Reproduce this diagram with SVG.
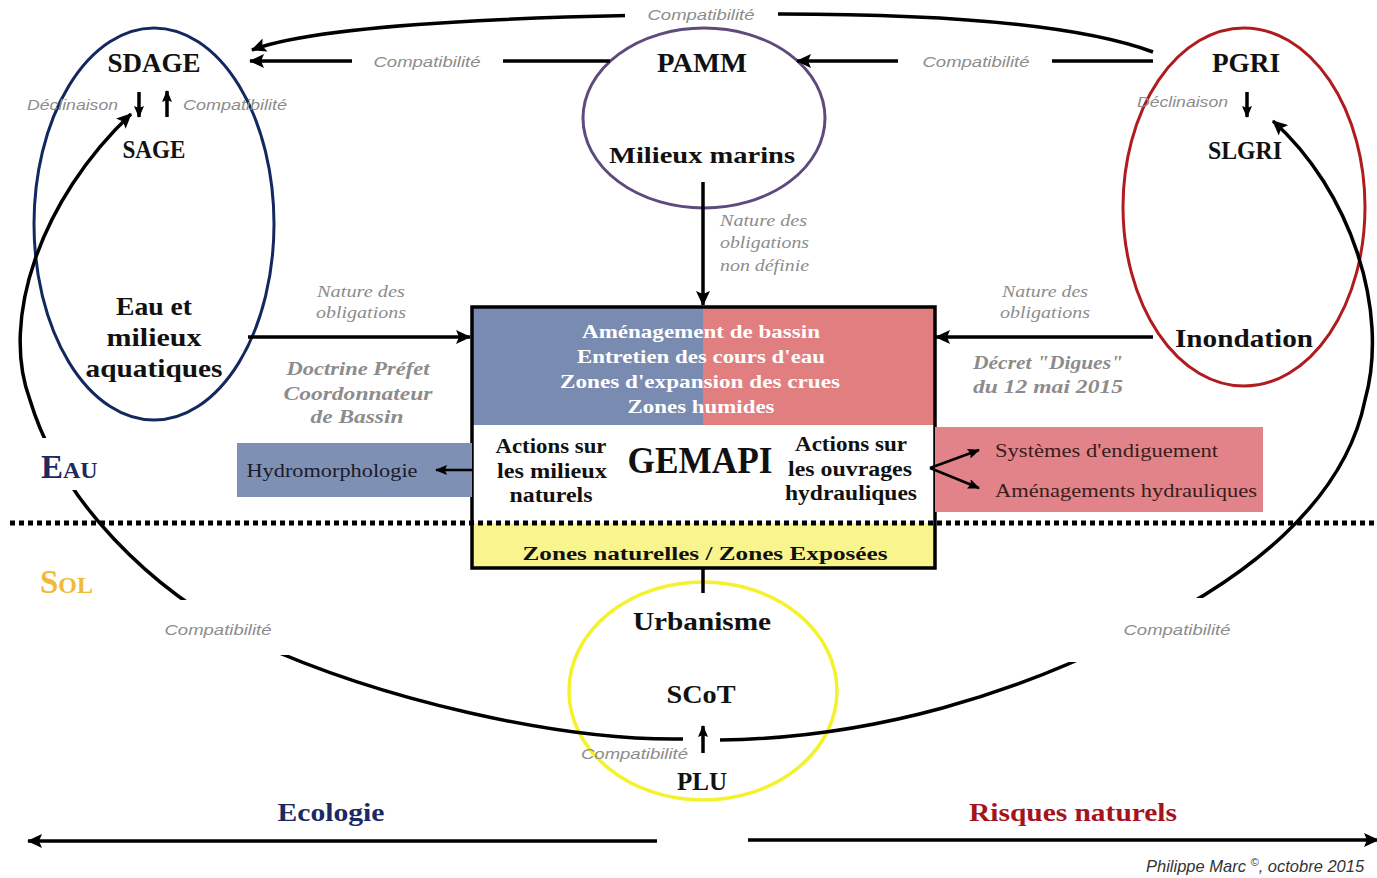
<svg xmlns="http://www.w3.org/2000/svg" width="1377" height="878" viewBox="0 0 1377 878">
  <defs>
    <marker id="ah" markerUnits="userSpaceOnUse" markerWidth="16" markerHeight="14" refX="14" refY="7" orient="auto">
      <path d="M0,0 L15,7 L0,14 L3,7 Z" fill="#000"/>
    </marker>
    <marker id="ahs" markerUnits="userSpaceOnUse" markerWidth="12" markerHeight="10" refX="11" refY="5" orient="auto">
      <path d="M0,0 L12,5 L0,10 L2,5 Z" fill="#000"/>
    </marker>
    <style>
      .b { font-family: "Liberation Serif", serif; font-weight: bold; fill: #111; }
      .r { font-family: "Liberation Serif", serif; font-weight: normal; }
      .w { font-family: "Liberation Serif", serif; font-weight: bold; fill: #fff; }
      .it { font-family: "Liberation Sans", sans-serif; font-style: italic; fill: #8c8c8c; }
      .its { font-family: "Liberation Serif", serif; font-style: italic; fill: #8c8c8c; }
      .bi { font-family: "Liberation Serif", serif; font-style: italic; font-weight: bold; fill: #8c8c8c; }
      .ln { fill: none; stroke: #000; stroke-width: 3.5; }
      .lt { fill: none; stroke: #000; stroke-width: 2.5; }
      .gap { fill: #fff; }
    </style>
  </defs>
  <rect width="1377" height="878" fill="#fff"/>

  <g id="sdage">
    <ellipse cx="154" cy="224" rx="120" ry="196" fill="none" stroke="#13285f" stroke-width="3"/>
    <text class="b" x="154" y="72" font-size="27" text-anchor="middle" textLength="93" lengthAdjust="spacingAndGlyphs">SDAGE</text>
    <text class="b" x="154" y="158" font-size="25" text-anchor="middle" textLength="63" lengthAdjust="spacingAndGlyphs">SAGE</text>
    <text class="it" x="27" y="110" font-size="15" textLength="91" lengthAdjust="spacingAndGlyphs">Déclinaison</text>
    <text class="it" x="183" y="110" font-size="15" textLength="104" lengthAdjust="spacingAndGlyphs">Compatibilité</text>
    <text class="b" x="154" y="315" font-size="25" text-anchor="middle" textLength="76" lengthAdjust="spacingAndGlyphs">Eau et</text>
    <text class="b" x="154" y="346" font-size="25" text-anchor="middle" textLength="95" lengthAdjust="spacingAndGlyphs">milieux</text>
    <text class="b" x="154" y="377" font-size="25" text-anchor="middle" textLength="137" lengthAdjust="spacingAndGlyphs">aquatiques</text>
  </g>

  <g id="pamm">
    <ellipse cx="704" cy="118" rx="121" ry="90" fill="none" stroke="#5f4a7d" stroke-width="3"/>
    <text class="b" x="702" y="72" font-size="27" text-anchor="middle" textLength="90" lengthAdjust="spacingAndGlyphs">PAMM</text>
    <text class="b" x="702" y="163" font-size="23" text-anchor="middle" textLength="186" lengthAdjust="spacingAndGlyphs">Milieux marins</text>
  </g>

  <g id="pgri">
    <ellipse cx="1244" cy="207" rx="121" ry="179" fill="none" stroke="#b01b1e" stroke-width="3"/>
    <text class="b" x="1246" y="72" font-size="27" text-anchor="middle" textLength="68" lengthAdjust="spacingAndGlyphs">PGRI</text>
    <text class="b" x="1245" y="159" font-size="25" text-anchor="middle" textLength="74" lengthAdjust="spacingAndGlyphs">SLGRI</text>
    <text class="it" x="1137" y="107" font-size="15" textLength="91" lengthAdjust="spacingAndGlyphs">Déclinaison</text>
    <text class="b" x="1244" y="347" font-size="25" text-anchor="middle" textLength="138" lengthAdjust="spacingAndGlyphs">Inondation</text>
  </g>

  <g id="gemapi">
    <rect x="472" y="307" width="231" height="118" fill="#7a8bb2"/>
    <rect x="703" y="307" width="232" height="118" fill="#e07e80"/>
    <rect x="472" y="523" width="463" height="45" fill="#f8f48e"/>
    <rect x="472" y="307" width="463" height="261" fill="none" stroke="#000" stroke-width="3.5"/>
    <text class="w" x="701" y="338" font-size="19" text-anchor="middle" textLength="238" lengthAdjust="spacingAndGlyphs">Aménagement de bassin</text>
    <text class="w" x="701" y="363" font-size="19" text-anchor="middle" textLength="248" lengthAdjust="spacingAndGlyphs">Entretien des cours d'eau</text>
    <text class="w" x="700" y="388" font-size="19" text-anchor="middle" textLength="280" lengthAdjust="spacingAndGlyphs">Zones d'expansion des crues</text>
    <text class="w" x="701" y="413" font-size="19" text-anchor="middle" textLength="147" lengthAdjust="spacingAndGlyphs">Zones humides</text>
    <text class="b" x="551" y="453" font-size="20" text-anchor="middle" textLength="111" lengthAdjust="spacingAndGlyphs">Actions sur</text>
    <text class="b" x="552" y="478" font-size="20" text-anchor="middle" textLength="110" lengthAdjust="spacingAndGlyphs">les milieux</text>
    <text class="b" x="551" y="502" font-size="20" text-anchor="middle" textLength="83" lengthAdjust="spacingAndGlyphs">naturels</text>
    <text class="b" x="700" y="473" font-size="37" text-anchor="middle" textLength="145" lengthAdjust="spacingAndGlyphs">GEMAPI</text>
    <text class="b" x="851" y="451" font-size="20" text-anchor="middle" textLength="112" lengthAdjust="spacingAndGlyphs">Actions sur</text>
    <text class="b" x="850" y="476" font-size="20" text-anchor="middle" textLength="124" lengthAdjust="spacingAndGlyphs">les ouvrages</text>
    <text class="b" x="851" y="500" font-size="20" text-anchor="middle" textLength="132" lengthAdjust="spacingAndGlyphs">hydrauliques</text>
    <text class="b" x="705" y="560" font-size="19" text-anchor="middle" textLength="365" lengthAdjust="spacingAndGlyphs">Zones naturelles / Zones Exposées</text>
  </g>

  <g id="hydromorphologie">
    <rect x="237" y="443" width="235" height="54" fill="#7f90b5"/>
    <text class="r" x="332" y="477" font-size="18" fill="#1a1a2a" text-anchor="middle" textLength="171" lengthAdjust="spacingAndGlyphs">Hydromorphologie</text>
  </g>

  <g id="ouvrages">
    <rect x="935" y="427" width="328" height="85" fill="#e2838a"/>
    <text class="r" x="995" y="457" font-size="18" fill="#3a1c1c" textLength="223" lengthAdjust="spacingAndGlyphs">Systèmes d'endiguement</text>
    <text class="r" x="995" y="497" font-size="18" fill="#3a1c1c" textLength="262" lengthAdjust="spacingAndGlyphs">Aménagements hydrauliques</text>
  </g>

  <g id="urbanisme">
    <ellipse cx="703" cy="691" rx="134" ry="109" fill="none" stroke="#f4f22c" stroke-width="3.5"/>
    <text class="b" x="702" y="630" font-size="25" text-anchor="middle" textLength="138" lengthAdjust="spacingAndGlyphs">Urbanisme</text>
    <text class="b" x="701" y="703" font-size="25" text-anchor="middle" textLength="69" lengthAdjust="spacingAndGlyphs">SCoT</text>
    <text class="it" x="581" y="759" font-size="14" textLength="107" lengthAdjust="spacingAndGlyphs">Compatibilité</text>
    <text class="b" x="702" y="790" font-size="25" text-anchor="middle" textLength="50" lengthAdjust="spacingAndGlyphs">PLU</text>
  </g>

  <!-- layer separator between water and soil -->
  <line x1="10" y1="523" x2="1377" y2="523" stroke="#000" stroke-width="5" stroke-dasharray="5 4"/>

  <!-- connectors -->
  <g id="connectors">
    <path class="ln" d="M1153,52 C1080,25 950,14 780,14 C600,14 330,20 252,50" marker-end="url(#ah)"/>
    <path class="ln" d="M610,61 L250,61" marker-end="url(#ah)"/>
    <path class="ln" d="M1153,61 L797,61" marker-end="url(#ah)"/>
    <path class="ln" d="M703,182 L703,305" marker-end="url(#ah)"/>
    <path class="ln" d="M248,337 L470,337" marker-end="url(#ah)"/>
    <path class="ln" d="M1153,337 L936,337" marker-end="url(#ah)"/>
    <path class="lt" d="M472,470 L436,470" marker-end="url(#ahs)"/>
    <path class="lt" d="M930,468 L979,450" marker-end="url(#ahs)"/>
    <path class="lt" d="M930,468 L979,488" marker-end="url(#ahs)"/>
    <path class="ln" d="M139,92 L139,117" marker-end="url(#ahs)"/>
    <path class="ln" d="M167,117 L167,91" marker-end="url(#ahs)"/>
    <path class="ln" d="M1247,92 L1247,117" marker-end="url(#ahs)"/>
    <path class="ln" d="M703,753 L703,726" marker-end="url(#ahs)"/>
    <path class="ln" d="M703,569 L703,593"/>
    <path class="ln" d="M683,739 C560,741 380,700 250,640 C150,590 60,500 30,400 C0,320 40,200 131,114" marker-end="url(#ah)"/>
    <path class="ln" d="M720,740 C880,738 1020,690 1120,640 C1250,580 1345,500 1365,400 C1390,310 1350,190 1273,121" marker-end="url(#ah)"/>
    <path class="ln" d="M657,841 L28,841" marker-end="url(#ah)"/>
    <path class="ln" d="M748,840 L1378,840" marker-end="url(#ah)"/>
    <!-- openings left in the lines for their labels -->
    <rect class="gap" x="625" y="2" width="153" height="24"/>
    <rect class="gap" x="352" y="52" width="151" height="20"/>
    <rect class="gap" x="898" y="52" width="154" height="20"/>
    <rect class="gap" x="150" y="600" width="140" height="55"/>
    <rect class="gap" x="1048" y="598" width="192" height="64"/>
    <rect class="gap" x="20" y="438" width="90" height="52"/>
  </g>

  <g id="labels">
    <text class="it" x="701" y="20" font-size="15" text-anchor="middle" textLength="107" lengthAdjust="spacingAndGlyphs">Compatibilité</text>
    <text class="it" x="427" y="67" font-size="15" text-anchor="middle" textLength="107" lengthAdjust="spacingAndGlyphs">Compatibilité</text>
    <text class="it" x="976" y="67" font-size="15" text-anchor="middle" textLength="107" lengthAdjust="spacingAndGlyphs">Compatibilité</text>
    <text class="its" x="720" y="226" font-size="17" textLength="87" lengthAdjust="spacingAndGlyphs">Nature des</text>
    <text class="its" x="720" y="248" font-size="17" textLength="89" lengthAdjust="spacingAndGlyphs">obligations</text>
    <text class="its" x="720" y="271" font-size="17" textLength="89" lengthAdjust="spacingAndGlyphs">non définie</text>
    <text class="its" x="361" y="297" font-size="17" text-anchor="middle" textLength="88" lengthAdjust="spacingAndGlyphs">Nature des</text>
    <text class="its" x="361" y="318" font-size="17" text-anchor="middle" textLength="90" lengthAdjust="spacingAndGlyphs">obligations</text>
    <text class="bi" x="358" y="375" font-size="19" text-anchor="middle" textLength="143" lengthAdjust="spacingAndGlyphs">Doctrine Préfet</text>
    <text class="bi" x="358" y="400" font-size="19" text-anchor="middle" textLength="149" lengthAdjust="spacingAndGlyphs">Coordonnateur</text>
    <text class="bi" x="357" y="423" font-size="19" text-anchor="middle" textLength="93" lengthAdjust="spacingAndGlyphs">de Bassin</text>
    <text class="its" x="1045" y="297" font-size="17" text-anchor="middle" textLength="86" lengthAdjust="spacingAndGlyphs">Nature des</text>
    <text class="its" x="1045" y="318" font-size="17" text-anchor="middle" textLength="90" lengthAdjust="spacingAndGlyphs">obligations</text>
    <text class="bi" x="1048" y="369" font-size="19" text-anchor="middle" textLength="150" lengthAdjust="spacingAndGlyphs">Décret "Digues"</text>
    <text class="bi" x="1048" y="393" font-size="19" text-anchor="middle" textLength="150" lengthAdjust="spacingAndGlyphs">du 12 mai 2015</text>
    <text class="it" x="218" y="635" font-size="15" text-anchor="middle" textLength="107" lengthAdjust="spacingAndGlyphs">Compatibilité</text>
    <text class="it" x="1177" y="635" font-size="15" text-anchor="middle" textLength="107" lengthAdjust="spacingAndGlyphs">Compatibilité</text>
    <text x="41" y="478" font-family="Liberation Serif, serif" font-weight="bold" fill="#1d2a5e"><tspan font-size="33">E</tspan><tspan font-size="24">AU</tspan></text>
    <text x="40" y="593" font-family="Liberation Serif, serif" font-weight="bold" fill="#f0b93a"><tspan font-size="33">S</tspan><tspan font-size="24">OL</tspan></text>
    <text class="b" x="331" y="821" font-size="25" text-anchor="middle" textLength="107" lengthAdjust="spacingAndGlyphs" style="fill:#1c2a62">Ecologie</text>
    <text class="b" x="1073" y="821" font-size="25" text-anchor="middle" textLength="208" lengthAdjust="spacingAndGlyphs" style="fill:#a5141c">Risques naturels</text>
    <text x="1146" y="872" font-family="Liberation Sans, sans-serif" font-style="italic" font-size="16.5" fill="#333">Philippe Marc <tspan font-size="11" dy="-6">©</tspan><tspan dy="6">, octobre 2015</tspan></text>
  </g>
</svg>
